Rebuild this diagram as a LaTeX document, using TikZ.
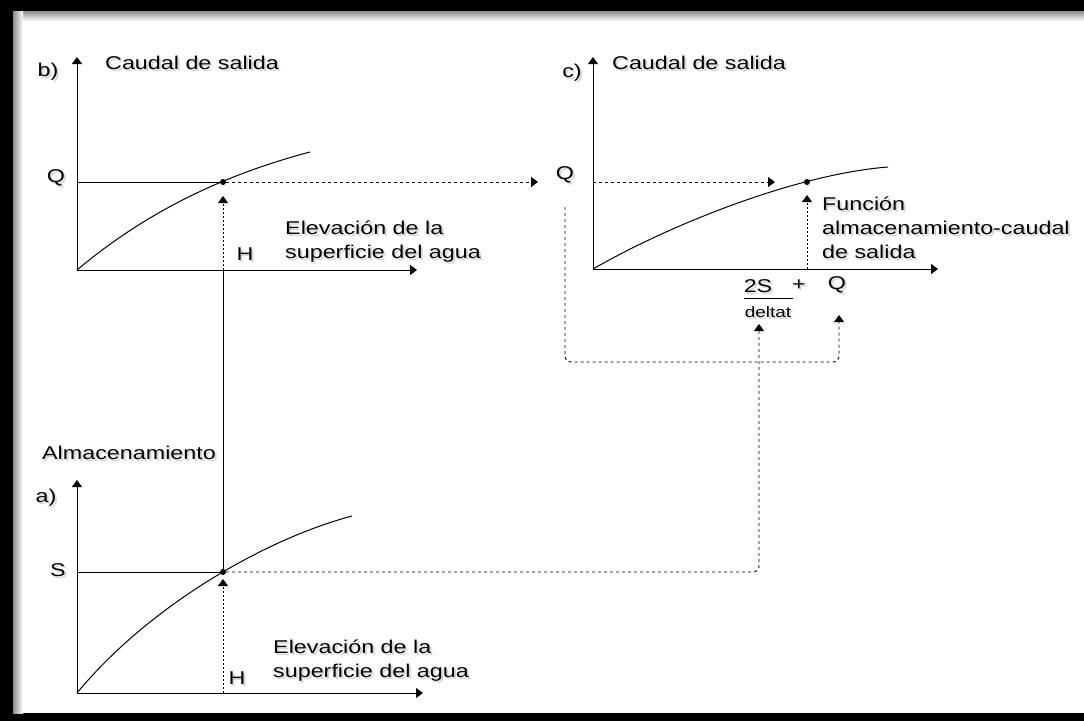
\documentclass[tikz,border=0pt]{standalone}
\usepackage{fontspec}
\setmainfont[FakeStretch=1.26]{Liberation Sans}
\usetikzlibrary{arrows.meta,calc}
\newcommand\slab[4]{%
  \node[lbl,#1,text=black!16] at ($(#3)+(2,2)$) {#4};
  \node[lbl,#1] (#2) at (#3) {#4};}
\begin{document}
\begin{tikzpicture}[x=1pt,y=-1pt,
  lbl/.style={inner sep=0pt,font=\fontsize{18.5}{24}\selectfont},
  small/.style={font=\fontsize{15}{18}\selectfont},
  axis/.style={line width=1pt,-{Triangle[width=10pt,length=7pt]}},
  curve/.style={line width=1pt},
  dash3/.style={line width=0.9pt,dash pattern=on 3pt off 3pt},
  dot2/.style={line width=0.9pt,dash pattern=on 2pt off 2pt},
  tip/.style={-{Triangle[width=10pt,length=7pt]}},
  pt/.style={circle,fill=black,inner sep=0pt,minimum size=6pt}]
\useasboundingbox (0,0) rectangle (1084,721);
% frame
\fill[black] (0,0) rectangle (1084,721);
\fill[white] (13,11) rectangle (1084,713);
\shade[top color=black!45,bottom color=white] (13,11) rectangle (1084,21);
\shade[left color=black!45,right color=white] (13,11) rectangle (23,713);
% ---------- graph b ----------
\coordinate (bO) at (77,270);
\coordinate (bY) at (77,57);
\coordinate (bX) at (417,270);
\draw[axis] (bO) -- (bY);
\draw[axis] (bO) -- (bX);
\node[pt] (bP) at (223,182) {};
\draw[line width=1pt] (77,182) -- (bP);
\draw[curve] (bO) .. controls (146,212) and (223,175) .. (310,152);
\slab{}{bl}{48,72}{b)}
\slab{anchor=west}{bt}{105,63}{Caudal de salida}
\slab{}{bQ}{56,178}{Q}
\slab{}{bH}{245,254}{H}
\slab{anchor=west,align=left}{bE}{285,242}{Elevación de la\\superficie del agua}
\coordinate (bHx) at (223,270);
\coordinate (bHt) at (223,196);
\draw[dot2,tip] (bHx) -- (bHt);
% ---------- graph a ----------
\coordinate (aO) at (77,693);
\coordinate (aY) at (77,480);
\coordinate (aX) at (423,693);
\draw[axis] (aO) -- (aY);
\draw[axis] (aO) -- (aX);
\node[pt] (aP) at (223,572) {};
\draw[line width=1pt] (77,572) -- (aP);
\draw[curve] (aO) .. controls (147,608) and (262,540) .. (352,516);
\slab{}{al}{46,498}{a)}
\slab{anchor=west}{at}{42,453}{Almacenamiento}
\slab{}{aS}{58,570}{S}
\slab{}{aH}{237,678}{H}
\slab{anchor=west,align=left}{aE}{273,661}{Elevación de la\\superficie del agua}
\coordinate (aHx) at (223,693);
\coordinate (aHt) at (223,579);
\draw[dot2,tip] (aHx) -- (aHt);
% solid link between graphs
\draw[line width=1pt] (bHx) -- (aP);
% ---------- graph c ----------
\coordinate (cO) at (593,269);
\coordinate (cY) at (593,57);
\coordinate (cX) at (938,269);
\draw[axis] (cO) -- (cY);
\draw[axis] (cO) -- (cX);
\node[pt] (cP) at (807,182) {};
\draw[curve] (cO) .. controls (673,223) and (798,174) .. (888,167);
\slab{}{cl}{572,73}{c)}
\slab{anchor=west}{ct}{612,63}{Caudal de salida}
\slab{}{cQ}{565,175}{Q}
\slab{anchor=west,align=left}{cF}{822,228}{Función\\almacenamiento-caudal\\de salida}
\slab{}{c2S}{758,286}{2S}
\draw[line width=0.8pt] (744,298) -- (793,298);
\slab{small}{cdt}{768,312}{deltat}
\slab{}{cplus}{799,285}{+}
\slab{}{cQ2}{837,285}{Q}
% dotted vertical in c
\coordinate (cPx) at (807,269);
\coordinate (cPt) at (807,195);
\draw[dot2,tip] (cPx) -- (cPt);
% dashed Q from b to c
\coordinate (cQin) at (538,182);
\draw[dash3,tip] (bP) -- (cQin);
\coordinate (cYQ) at (593,182);
\coordinate (cQt) at (775,182);
\draw[dash3,tip] (cYQ) -- (cQt);
% loop from Q to Q
\coordinate (lq1) at (565,207);
\coordinate (lq2) at (839,315);
\draw[dash3,tip,rounded corners=6pt] (lq1) |- (839,362) -- (lq2);
% S from a to 2S/deltat
\coordinate (sT) at (759,324);
\draw[dash3,tip,rounded corners=6pt] (aP) -| (sT);
\end{tikzpicture}
\end{document}
